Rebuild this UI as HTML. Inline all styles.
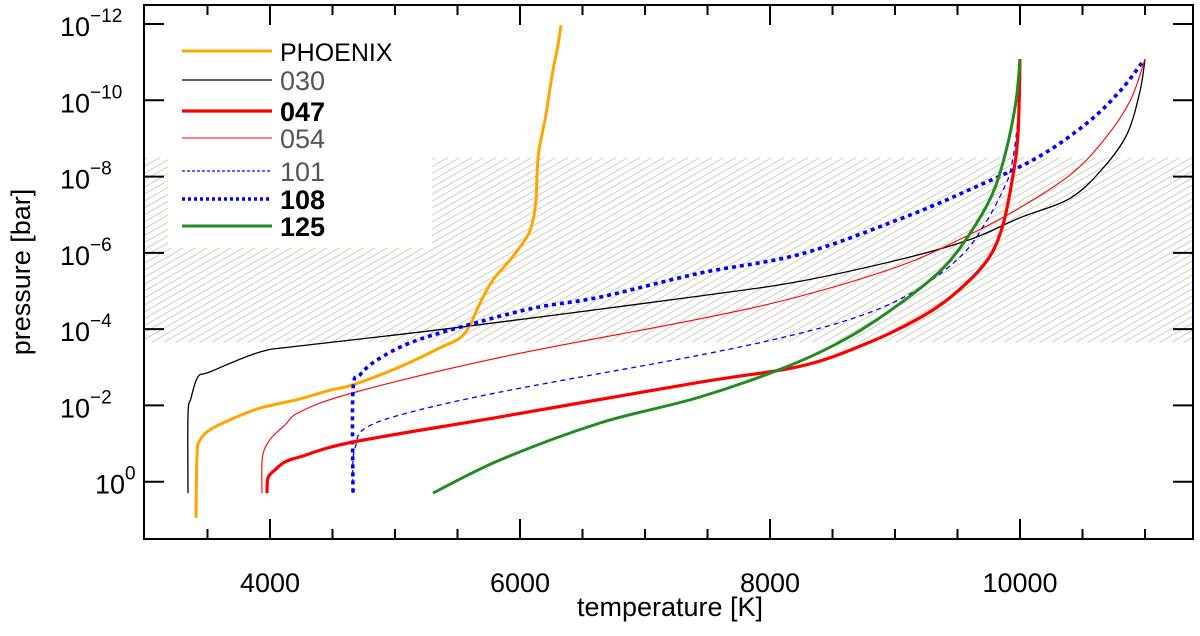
<!DOCTYPE html>
<html><head><meta charset="utf-8"><style>
html,body{margin:0;padding:0;background:#fff;}
svg{display:block;font-family:"Liberation Sans",sans-serif;}
</style></head><body>
<svg id="chart" width="1200" height="636" viewBox="0 0 1200 636">
<defs>
<pattern id="hatch" width="6" height="6" patternUnits="userSpaceOnUse" patternTransform="rotate(-30)">
<line x1="0" y1="0" x2="6" y2="0" stroke="#a8a887" stroke-width="1.1"/>
</pattern>
<clipPath id="plotclip"><rect x="144" y="5" width="1049" height="534"/></clipPath>
</defs>
<g id="hatchg"></g>
<rect x="168" y="5" width="264" height="243" fill="#fff"/>
<g id="series" clip-path="url(#plotclip)"></g>
<g id="axes"></g>
<g id="legend"></g>
<text x="30" y="272" font-size="27" text-anchor="middle" transform="rotate(-90 30 272)" fill="#000">pressure [bar]</text>
<text x="670" y="616" font-size="27" text-anchor="middle" fill="#000">temperature [K]</text>
</svg>
<script>
const xTicks = [4000, 6000, 8000, 10000];
const yTicks = [-12, -10, -8, -6, -4, -2, 0];
const hatchRange = [-8.5, -3.66];
const seriesNames = ["PHOENIX", "030", "047", "054", "101", "108", "125"];
const tPhoenix = [3408,3416,3440,3520,3680,3920,4240,4480,4664,5040,5360,5520,5600,5680,5784,5920,6056,6104,6128,6136,6152,6200,6232,6264,6304,6328];
const pPhoenix = [0.95,-0.70,-1.09,-1.36,-1.62,-1.93,-2.17,-2.40,-2.54,-3.01,-3.51,-3.77,-4.11,-4.68,-5.29,-5.81,-6.42,-6.86,-7.39,-8.04,-8.70,-9.48,-10.14,-10.79,-11.45,-11.97];
const t030 = [3344,3344,3368,3424,3520,3920,4240,5520,7440,8248,9056,9592,9992,10400,10664,10856,10960,11000];
const p030 = [0.30,-1.75,-2.19,-2.75,-2.88,-3.40,-3.56,-4.05,-4.87,-5.26,-5.84,-6.34,-6.91,-7.43,-8.22,-9.11,-10.24,-11.08];
const t047 = [3976,3984,4040,4120,4240,4664,5840,7440,8248,8784,9184,9456,9728,9856,9936,9984,10000];
const p047 = [0.30,-0.10,-0.31,-0.52,-0.65,-1.04,-1.70,-2.61,-3.03,-3.64,-4.27,-4.87,-5.76,-6.65,-7.88,-9.11,-11.08];
const t054 = [3936,3936,3960,4016,4120,4240,4664,5840,7440,8248,9056,9592,9992,10400,10664,10880,11000];
const p054 = [0.30,-0.52,-0.88,-1.17,-1.49,-1.83,-2.33,-3.26,-4.27,-4.87,-5.68,-6.47,-7.17,-8.04,-8.93,-9.98,-11.08];
const t101 = [4664,4664,4688,4744,5040,5840,7440,8248,8784,9184,9536,9728,9856,9928,9984,10000];
const p101 = [0.30,-0.57,-0.96,-1.36,-1.75,-2.35,-3.32,-3.90,-4.42,-5.05,-5.94,-6.81,-7.59,-8.22,-9.53,-11.08];
const t108 = [4664,4664,4720,4856,5120,5520,6104,6640,7440,8248,9056,9592,10128,10528,10800,10992];
const p108 = [0.28,-2.40,-2.80,-3.19,-3.64,-4.05,-4.55,-4.84,-5.47,-5.97,-6.91,-7.65,-8.48,-9.38,-10.24,-11.06];
const t125 = [5304,5840,6640,7440,8168,8648,9056,9376,9592,9776,9888,9968,10000];
const p125 = [0.30,-0.57,-1.54,-2.22,-3.06,-3.82,-4.71,-5.57,-6.47,-7.52,-8.67,-9.98,-11.08];

const NS = "http://www.w3.org/2000/svg";
const X0 = 144, X1 = 1193, Y0 = 5, Y1 = 539;
function xs(t){ return 270 + (t - 4000) * 0.125; }
function ys(lp){ return 481.7 + lp * 38.14; }
function mk(tag, attrs, parent){ const e = document.createElementNS(NS, tag); for (const k in attrs) e.setAttribute(k, attrs[k]); parent.appendChild(e); return e; }
function smoothPath(P){
  let d = 'M' + P[0][0].toFixed(1) + ',' + P[0][1].toFixed(1);
  for (let i = 0; i < P.length - 1; i++) {
    const p0 = P[i - 1] || P[i], p1 = P[i], p2 = P[i + 1], p3 = P[i + 2] || P[i + 1];
    const k = 1 / 6;
    const c1 = [p1[0] + (p2[0] - p0[0]) * k, p1[1] + (p2[1] - p0[1]) * k];
    const c2 = [p2[0] - (p3[0] - p1[0]) * k, p2[1] - (p3[1] - p1[1]) * k];
    d += ' C' + c1[0].toFixed(1) + ',' + c1[1].toFixed(1) + ' ' + c2[0].toFixed(1) + ',' + c2[1].toFixed(1) + ' ' + p2[0].toFixed(1) + ',' + p2[1].toFixed(1);
  }
  return d;
}

const hg = document.getElementById('hatchg');
const hr = mk('rect', {x: X0, y: ys(hatchRange[0]), width: X1 - X0, height: ys(hatchRange[1]) - ys(hatchRange[0]), fill: 'url(#hatch)'}, hg);



const styles = [
  {c:'#ffa500', w:3, d:''},
  {c:'#000', w:1.3, d:''},
  {c:'#ff0000', w:3.2, d:''},
  {c:'#ff0000', w:1.1, d:''},
  {c:'#0000ff', w:1.3, d:'5,4'},
  {c:'#0000ff', w:3.6, d:'4,4'},
  {c:'#228b22', w:3, d:''}
];
const tArr = [tPhoenix, t030, t047, t054, t101, t108, t125];
const pArr = [pPhoenix, p030, p047, p054, p101, p108, p125];
const sg = document.getElementById('series');
const order = [1, 3, 4, 0, 5, 2, 6];
order.forEach(i => {
  const P = tArr[i].map((t, j) => [xs(t), ys(pArr[i][j])]);
  const pl = mk('path', {d: smoothPath(P), fill: 'none', stroke: styles[i].c, 'stroke-width': styles[i].w, 'stroke-linejoin': 'round'}, sg);
  if (styles[i].d) pl.setAttribute('stroke-dasharray', styles[i].d);
  
  
});

const ag = document.getElementById('axes');
const frame = mk('rect', {x: X0, y: Y0, width: X1 - X0, height: Y1 - Y0, fill: 'none', stroke: '#000', 'stroke-width': 2}, ag);


for (let t = 3500; t <= 11000; t += 500) {
  const x = xs(t); const major = (t % 2000 === 0);
  const L = major ? 20 : 10;
  mk('line', {x1: x, y1: Y1, x2: x, y2: Y1 - L, stroke: '#000', 'stroke-width': 2}, ag);
  mk('line', {x1: x, y1: Y0, x2: x, y2: Y0 + L, stroke: '#000', 'stroke-width': 2}, ag);
}
xTicks.forEach(t => {
  const tx = mk('text', {x: xs(t), y: 592, 'font-size': 27, 'text-anchor': 'middle', fill: '#000'}, ag);
  tx.textContent = String(t);
  
  
});
yTicks.forEach(v => {
  const y = ys(v);
  mk('line', {x1: X0, y1: y, x2: X0 + 20, y2: y, stroke: '#000', 'stroke-width': 2}, ag);
  mk('line', {x1: X1, y1: y, x2: X1 - 20, y2: y, stroke: '#000', 'stroke-width': 2}, ag);
  const tx = mk('text', {x: v === 0 ? 95 : 60, y: y + 12, 'font-size': 27, fill: '#000'}, ag);
  tx.textContent = '10';
  const sup = mk('tspan', {dy: -14, 'font-size': 19}, tx);
  sup.textContent = v === 0 ? '0' : '\u2212' + Math.abs(v);
  
  
});

const lg = document.getElementById('legend');
const rowY = [51, 80, 111, 138, 171, 199, 226];
const bold = [false, false, true, false, false, true, true];
seriesNames.forEach((n, i) => {
  const ln = mk('line', {x1: 182, y1: rowY[i], x2: 272, y2: rowY[i], stroke: styles[i].c, 'stroke-width': styles[i].w}, lg);
  if (styles[i].d) ln.setAttribute('stroke-dasharray', styles[i].d === '4,4' ? '3,3' : '3,2');
  
  
  const isLight = (i === 1 || i === 3 || i === 4);
  const tx = mk('text', {x: 280, y: rowY[i] + 10, 'font-size': 27, fill: isLight ? '#555' : '#000', 'font-weight': bold[i] ? 'bold' : 'normal'}, lg);
  if (i === 0) tx.setAttribute('font-size', '25');
  tx.textContent = n;
  
  
});
</script>
</body></html>
